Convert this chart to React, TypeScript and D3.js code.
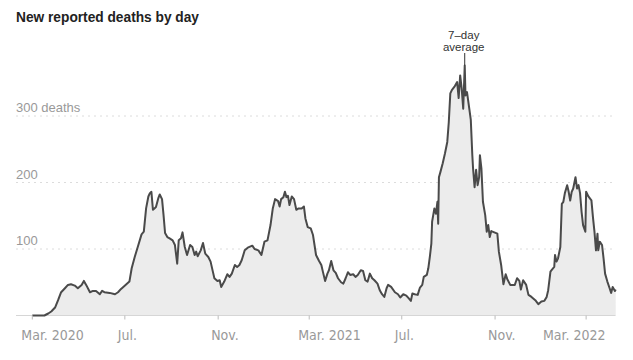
import React from "react";
import * as d3 from "d3";

const W = 633;
const H = 360;

const title = "New reported deaths by day";
const annotationLines = ["7–day", "average"];

const dates = [
  "2020-03-01","2020-03-17","2020-03-22","2020-03-26","2020-03-31","2020-04-04","2020-04-08","2020-04-13","2020-04-17","2020-04-21",
  "2020-04-26","2020-04-30","2020-05-05","2020-05-08","2020-05-11","2020-05-16","2020-05-20","2020-05-24","2020-05-29","2020-06-01",
  "2020-06-04","2020-06-11","2020-06-18","2020-06-22","2020-06-26","2020-07-03","2020-07-07","2020-07-10","2020-07-14","2020-07-18",
  "2020-07-23","2020-07-26","2020-07-29","2020-08-01","2020-08-03","2020-08-05","2020-08-07","2020-08-09","2020-08-11","2020-08-14",
  "2020-08-16","2020-08-19","2020-08-21","2020-08-23","2020-08-26","2020-08-29","2020-09-02","2020-09-05","2020-09-08","2020-09-10",
  "2020-09-13","2020-09-15","2020-09-18","2020-09-21","2020-09-25","2020-09-28","2020-10-01","2020-10-03","2020-10-05","2020-10-09",
  "2020-10-12","2020-10-15","2020-10-19","2020-10-22","2020-10-25","2020-10-27","2020-10-31","2020-11-03","2020-11-05","2020-11-09",
  "2020-11-13","2020-11-16","2020-11-19","2020-11-23","2020-11-26","2020-11-29","2020-12-02","2020-12-06","2020-12-10","2020-12-16",
  "2020-12-19","2020-12-24","2020-12-28","2021-01-01","2021-01-05","2021-01-09","2021-01-12","2021-01-15","2021-01-19","2021-01-21",
  "2021-01-23","2021-01-26","2021-01-28","2021-01-30","2021-02-01","2021-02-03","2021-02-06","2021-02-09","2021-02-12","2021-02-15",
  "2021-02-19","2021-02-22","2021-02-24","2021-02-27","2021-03-03","2021-03-06","2021-03-08","2021-03-10","2021-03-14","2021-03-17",
  "2021-03-19","2021-03-22","2021-03-25","2021-03-27","2021-03-30","2021-04-02","2021-04-05","2021-04-08","2021-04-12","2021-04-15",
  "2021-04-18","2021-04-21","2021-04-24","2021-04-28","2021-05-01","2021-05-04","2021-05-08","2021-05-11","2021-05-14","2021-05-17",
  "2021-05-20","2021-05-23","2021-05-26","2021-05-30","2021-06-02","2021-06-05","2021-06-08","2021-06-11","2021-06-13","2021-06-17",
  "2021-06-22","2021-06-26","2021-06-29","2021-07-03","2021-07-07","2021-07-10","2021-07-13","2021-07-15","2021-07-18","2021-07-22",
  "2021-07-25","2021-07-28","2021-07-30","2021-08-03","2021-08-05","2021-08-07","2021-08-09","2021-08-10","2021-08-13","2021-08-15",
  "2021-08-17","2021-08-18","2021-08-19","2021-08-21","2021-08-24","2021-08-27","2021-08-30","2021-09-01","2021-09-03","2021-09-05",
  "2021-09-09","2021-09-12","2021-09-14","2021-09-16","2021-09-18","2021-09-20","2021-09-22","2021-09-23","2021-09-25","2021-09-28",
  "2021-09-30","2021-10-02","2021-10-03","2021-10-05","2021-10-07","2021-10-09","2021-10-11","2021-10-12","2021-10-14","2021-10-16",
  "2021-10-19","2021-10-21","2021-10-23","2021-10-25","2021-10-27","2021-10-31","2021-11-04","2021-11-06","2021-11-09","2021-11-12",
  "2021-11-15","2021-11-17","2021-11-21","2021-11-24","2021-11-27","2021-11-30","2021-12-03","2021-12-05","2021-12-08","2021-12-12",
  "2021-12-15","2021-12-19","2021-12-24","2021-12-28","2022-01-01","2022-01-05","2022-01-08","2022-01-10","2022-01-13","2022-01-15",
  "2022-01-18","2022-01-19","2022-01-21","2022-01-23","2022-01-26","2022-01-28","2022-01-30","2022-02-01","2022-02-04","2022-02-06",
  "2022-02-08","2022-02-10","2022-02-12","2022-02-15","2022-02-17","2022-02-19","2022-02-21","2022-02-23","2022-02-25","2022-02-28",
  "2022-03-01","2022-03-04","2022-03-08","2022-03-10","2022-03-12","2022-03-14","2022-03-16","2022-03-17","2022-03-19","2022-03-22",
  "2022-03-24","2022-03-26","2022-03-29","2022-04-01","2022-04-03","2022-04-05","2022-04-08","2022-04-09",
];

const deaths = [
  0,0,3,6,12,23,35,41,46,47,
  45,41,46,52,46,35,37,37,32,37,
  35,34,32,35,40,47,51,71,88,103,
  122,126,161,179,184,186,159,161,163,176,
  182,175,151,124,118,116,113,106,78,113,
  116,125,103,91,106,103,91,96,89,98,
  109,93,88,81,66,56,52,53,43,51,
  62,58,63,76,73,76,83,98,102,105,
  100,98,91,111,113,136,161,175,172,164,
  175,178,186,178,180,166,179,175,159,161,
  161,164,146,133,131,121,106,91,82,76,
  66,52,63,68,82,68,64,56,50,48,
  56,65,61,62,58,61,68,67,53,51,
  63,56,53,48,38,32,28,41,46,43,
  35,32,27,32,30,26,22,33,32,31,
  42,46,58,61,71,88,108,141,161,153,
  171,138,208,216,229,244,261,291,334,339,
  345,351,327,361,341,311,376,331,336,311,
  294,241,221,193,219,196,208,241,221,171,
  151,126,136,118,127,125,123,96,76,47,
  62,55,46,46,46,56,52,39,53,46,
  31,28,23,17,21,22,28,38,66,69,
  73,91,81,86,103,168,171,184,196,186,
  173,186,191,208,191,196,184,156,136,126,
  186,179,173,148,126,98,123,98,111,106,
  86,63,51,41,34,43,37,39,
];

const tickDates = ["2020-03-01", "2020-07-01", "2020-11-01", "2021-03-01", "2021-07-01", "2021-11-01", "2022-03-01"];
const tickMonths = ["Mar.", "Jul.", "Nov.", "Mar.", "Jul.", "Nov.", "Mar."];
const tickYears = ["2020", "", "", "2021", "", "", "2022"];

const yTicks = [100, 200, 300];
const yTickLabels = ["100", "200", "300 deaths"];

export default function App() {
  const parse = d3.utcParse("%Y-%m-%d");
  const data = dates.map((d, i) => ({ date: parse(d) as Date, value: deaths[i] }));

  const plotLeft = 16;
  const plotRight = 615.5;
  const x = d3
    .scaleUtc()
    .domain(d3.extent(data, (d) => d.date) as [Date, Date])
    .range([32.3, 615.7]);
  const y = d3.scaleLinear().domain([0, 300]).range([315.5, 116]);

  const area = d3
    .area<{ date: Date; value: number }>()
    .x((d) => x(d.date))
    .y0(y(0))
    .y1((d) => y(d.value));
  const line = d3
    .line<{ date: Date; value: number }>()
    .x((d) => x(d.date))
    .y((d) => y(d.value));

  const peak = data.reduce((a, b) => (b.value > a.value ? b : a));
  const px = x(peak.date);
  const py = y(peak.value);

  const axisFont = "'Liberation Sans Narrow', 'Arial Narrow', 'DejaVu Sans Condensed', 'Liberation Sans', sans-serif";
  const lastIdx = tickDates.length - 1;

  return (
    <svg
      width={W}
      height={H}
      viewBox={`0 0 ${W} ${H}`}
      style={{ position: "absolute", left: 0, top: 0, background: "#fff" }}
    >
      <text
        x={16}
        y={22}
        fontFamily="'Liberation Sans', Arial, sans-serif"
        fontWeight={700}
        fontSize={15}
        fill="#222"
        textLength={183}
        lengthAdjust="spacingAndGlyphs"
      >
        {title}
      </text>

      {yTicks.map((t, i) => (
        <g key={t}>
          <line
            x1={plotLeft}
            x2={plotRight}
            y1={y(t)}
            y2={y(t)}
            stroke="#dcdcdc"
            strokeWidth={1}
            strokeDasharray="2 4"
          />
          <text
            x={plotLeft}
            y={y(t) - 4}
            fontFamily="'Liberation Sans', Arial, sans-serif"
            fontSize={13}
            fill="#999"
          >
            {yTickLabels[i]}
          </text>
        </g>
      ))}

      <path d={area(data) || ""} fill="#ececec" />
      <line x1={plotLeft} x2={plotRight} y1={y(0)} y2={y(0)} stroke="#d6d6d6" strokeWidth={1} />
      <path d={line(data) || ""} fill="none" stroke="#4a4a4a" strokeWidth={2} strokeLinejoin="round" />

      {tickDates.map((td, i) => {
        const tx = x(parse(td) as Date);
        const label = tickYears[i] ? `${tickMonths[i]} ${tickYears[i]}` : tickMonths[i];
        const isLast = i === lastIdx;
        const offset = tickYears[i] ? -11 : -7;
        return (
          <g key={td}>
            <line x1={tx} x2={tx} y1={y(0)} y2={y(0) + 4} stroke="#bbb" strokeWidth={1} />
            <text
              x={isLast ? plotRight - 10 : tx + offset}
              y={y(0) + 24}
              textAnchor={isLast ? "end" : "start"}
              fontFamily={axisFont}
              fontSize={14}
              fill="#999"
            >
              {label}
            </text>
          </g>
        );
      })}

      <line x1={px} x2={px} y1={53} y2={py} stroke="#333" strokeWidth={1} />
      {annotationLines.map((l, i) => (
        <text
          key={l}
          x={px - 1}
          y={39 + i * 11.5}
          textAnchor="middle"
          fontFamily="'Liberation Sans', Arial, sans-serif"
          fontSize={11.5}
          fill="#333"
        >
          {l}
        </text>
      ))}
    </svg>
  );
}
